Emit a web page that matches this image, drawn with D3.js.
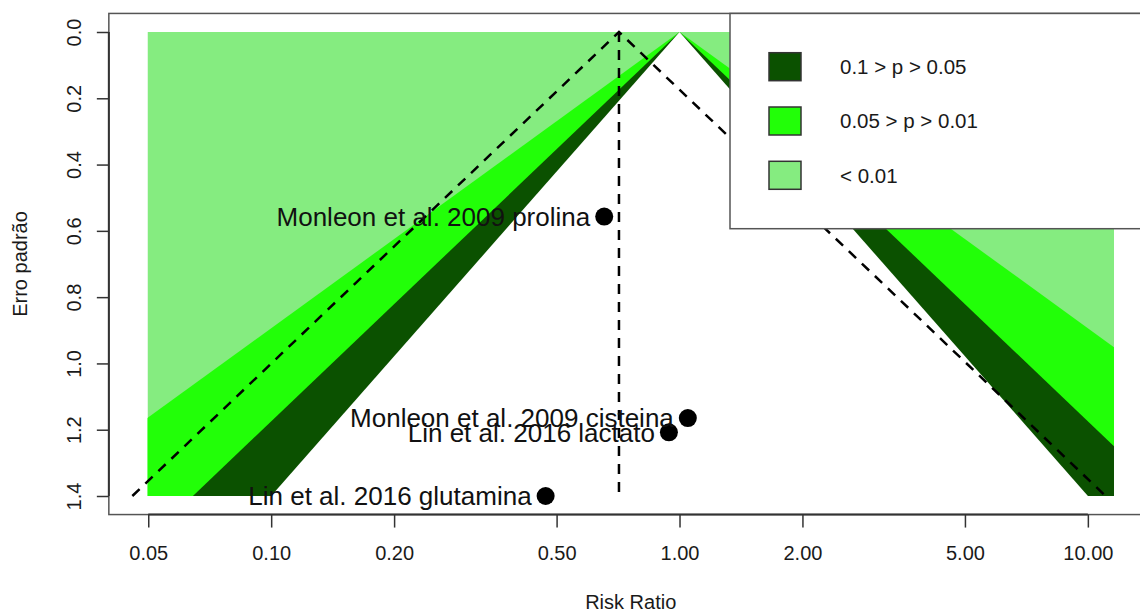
<!DOCTYPE html>
<html>
<head>
<meta charset="utf-8">
<script src="https://cdn.jsdelivr.net/npm/d3@7"></script>
<style>
  body { margin: 0; background: #fff; }
  svg { display: block; font-family: "Liberation Sans", Arial, Helvetica, sans-serif; }
  .tick text { font-size: 20px; fill: #1a1a1a; }
  .tick line { stroke: #333; stroke-width: 1.5; }
</style>
</head>
<body>
<script>
// studies (risk ratio, standard error)
let studies = ["Monleon et al. 2009 prolina", "Monleon et al. 2009 cisteina",
               "Lin et al. 2016 lactato", "Lin et al. 2016 glutamina"];
let riskRatio = [0.654, 1.048, 0.942, 0.470];
let stdErr    = [0.557, 1.165, 1.208, 1.400];

// contour levels: z for 90%, 95%, 99%
let zLevels  = [1.645, 1.960, 2.576];
let legendLabels = ["0.1 > p > 0.05", "0.05 > p > 0.01", "< 0.01"];
let shadeColors  = ["#0b5100", "#22ff08", "#85ec80"];

let xTicks = [0.05, 0.10, 0.20, 0.50, 1.00, 2.00, 5.00, 10.00];
let yTicks = [0.0, 0.2, 0.4, 0.6, 0.8, 1.0, 1.2, 1.4];
let xLim = [-3, 2.45];   // log RR
let seMax = 1.4;

let width = 1140, height = 611;

let svg = d3.select("body").append("svg")
    .attr("width", width)
    .attr("height", height);

let xScale = d3.scaleLog()
    .domain([Math.exp(xLim[0]), Math.exp(xLim[1])])
    .range([147.5, 1114]);
let yScale = d3.scaleLinear()
    .domain([0, seMax])
    .range([32, 496]);

// R style 4% extension of the plot region
let xr = xScale.range(), yr = yScale.range();
let plot = {
  left:   xr[0] - 0.04 * (xr[1] - xr[0]),
  right:  xr[1] + 0.04 * (xr[1] - xr[0]),
  top:    yr[0] - 0.04 * (yr[1] - yr[0]),
  bottom: yr[1] + 0.04 * (yr[1] - yr[0])
};

let line = d3.line()
    .x(d => xScale(d[0]))
    .y(d => yScale(d[1]));

function drawShading() {
  svg.append("clipPath").attr("id", "shade-clip")
    .append("rect")
      .attr("x", xr[0]).attr("y", yr[0])
      .attr("width", xr[1] - xr[0]).attr("height", yr[1] - yr[0]);
  let g = svg.append("g").attr("clip-path", "url(#shade-clip)");
  g.append("rect")
      .attr("x", xr[0]).attr("y", yr[0])
      .attr("width", xr[1] - xr[0]).attr("height", yr[1] - yr[0])
      .attr("fill", shadeColors[2]);
  // outer to inner: 99% bright, 95% dark, 90% white
  let fills = [shadeColors[1], shadeColors[0], "#fff"];
  [2, 1, 0].forEach((k, i) => {
    let z = zLevels[k];
    let tri = [[Math.exp(-z * seMax), seMax], [1, 0], [Math.exp(z * seMax), seMax]];
    g.append("path")
        .attr("d", line(tri) + "Z")
        .attr("fill", fills[i]);
  });
}

function drawFunnel(est) {
  let z = 1.96;
  let pts = [[Math.exp(est - z * seMax), seMax], [Math.exp(est), 0], [Math.exp(est + z * seMax), seMax]];
  let style = p => p.attr("fill", "none").attr("stroke", "#000")
      .attr("stroke-width", 2.5).attr("stroke-dasharray", "10,8");
  svg.append("path").attr("d", line(pts)).call(style);
  svg.append("path").attr("d", line([[Math.exp(est), 0], [Math.exp(est), seMax]])).call(style);
}

function drawPoints() {
  let data = studies.map((s, i) => ({name: s, rr: riskRatio[i], se: stdErr[i]}));
  svg.selectAll("circle.dot")
      .data(data)
      .enter()
        .append("circle")
        .attr("class", "dot")
        .attr("cx", d => xScale(d.rr))
        .attr("cy", d => yScale(d.se))
        .attr("r", 9)
        .attr("fill", "#000");
  svg.selectAll("text.lab")
      .data(data)
      .enter()
        .append("text")
        .attr("class", "lab")
        .attr("x", d => xScale(d.rr) - 14)
        .attr("y", d => yScale(d.se))
        .attr("dy", "0.36em")
        .attr("text-anchor", "end")
        .attr("font-size", 26)
        .attr("fill", "#111")
        .text(d => d.name);
}

function drawAxes() {
  svg.append("rect")
      .attr("x", plot.left).attr("y", plot.top)
      .attr("width", plot.right - plot.left).attr("height", plot.bottom - plot.top)
      .attr("fill", "none").attr("stroke", "#555").attr("stroke-width", 1.5);

  let xAxis = d3.axisBottom(xScale)
      .tickValues(xTicks)
      .tickFormat(d3.format(".2f"))
      .tickSize(13)
      .tickPadding(18);
  let gx = svg.append("g")
      .attr("transform", `translate(0, ${plot.bottom})`)
      .call(xAxis);
  gx.select(".domain").attr("d", `M${xScale(xTicks[0])},0H${xScale(xTicks[xTicks.length - 1])}`)
      .attr("stroke", "#333").attr("stroke-width", 2);

  let yAxis = d3.axisLeft(yScale)
      .tickValues(yTicks)
      .tickFormat(d3.format(".1f"))
      .tickSize(12);
  let gy = svg.append("g")
      .attr("transform", `translate(${plot.left}, 0)`)
      .call(yAxis);
  gy.select(".domain").attr("d", `M0,${yScale(yTicks[0])}V${yScale(yTicks[yTicks.length - 1])}`)
      .attr("stroke", "#333").attr("stroke-width", 2);
  gy.selectAll(".tick text")
      .attr("x", null)
      .attr("dy", "0.36em")
      .attr("text-anchor", "middle")
      .attr("transform", "translate(-35.5, 0) rotate(-90)");
  svg.selectAll(".tick text").attr("font-family", null).attr("font-size", null);

  svg.append("text")
      .attr("x", (plot.left + plot.right) / 2)
      .attr("y", 602)
      .attr("dy", "0.36em")
      .attr("text-anchor", "middle")
      .attr("font-size", 20)
      .attr("fill", "#1a1a1a")
      .text("Risk Ratio");
  svg.append("text")
      .attr("transform", `translate(20, ${(plot.top + plot.bottom) / 2}) rotate(-90)`)
      .attr("dy", "0.36em")
      .attr("text-anchor", "middle")
      .attr("font-size", 20)
      .attr("fill", "#1a1a1a")
      .text("Erro padrão");
}

function drawLegend() {
  let g = svg.append("g");
  g.append("rect")
      .attr("x", 730).attr("y", plot.top)
      .attr("width", 500).attr("height", 228.7 - plot.top)
      .attr("fill", "#fff").attr("stroke", "#555").attr("stroke-width", 1.5);
  let rows = g.selectAll("g.row")
      .data(legendLabels)
      .enter()
        .append("g")
        .attr("class", "row")
        .attr("transform", (d, i) => `translate(0, ${66.7 + i * 54.3})`);
  rows.append("rect")
      .attr("x", 769).attr("y", -14)
      .attr("width", 32).attr("height", 28)
      .attr("fill", (d, i) => shadeColors[i])
      .attr("stroke", "#333").attr("stroke-width", 1.5);
  rows.append("text")
      .attr("x", 840)
      .attr("dy", "0.36em")
      .attr("font-size", 20.5)
      .attr("fill", "#1a1a1a")
      .text(d => d);
}

// pooled estimate (inverse-variance, fixed effect)
let w = stdErr.map(s => 1 / (s * s));
let est = d3.sum(riskRatio.map((r, i) => w[i] * Math.log(r))) / d3.sum(w);

drawShading();
drawFunnel(est);
drawPoints();
drawAxes();
drawLegend();
</script>
</body>
</html>
